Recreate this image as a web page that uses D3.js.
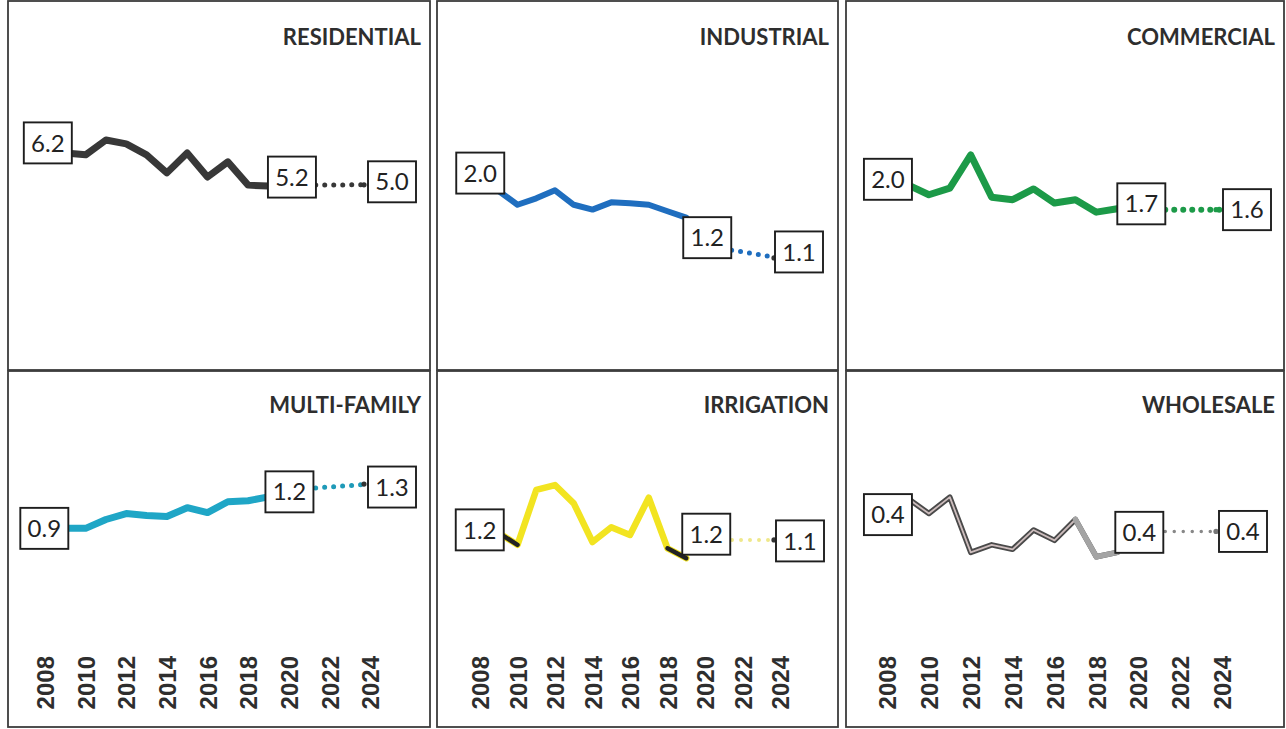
<!DOCTYPE html>
<html>
<head>
<meta charset="utf-8">
<script src="https://cdn.jsdelivr.net/npm/d3@7"></script>
<style>
  body { margin: 0; background: #fff; }
  svg { display: block; }
</style>
</head>
<body>
<svg id="chart" width="1286" height="729"></svg>
<script>
// historical years and projection end points
const years = [2009, 2010, 2011, 2012, 2013, 2014, 2015, 2016, 2017, 2018, 2019];
const projYears = [2020, 2024];
const tickYears = [2008, 2010, 2012, 2014, 2016, 2018, 2020, 2022, 2024];

const sectorNames = ["RESIDENTIAL", "INDUSTRIAL", "COMMERCIAL", "MULTI-FAMILY", "IRRIGATION", "WHOLESALE"];

const residential = [6.21, 6.15, 6.61, 6.49, 6.15, 5.59, 6.21, 5.46, 5.93, 5.21, 5.18];
const residentialProj = [5.21, 5.22];
const residentialLabels = ["6.2", "5.2", "5.0"];

const industrial = [2.01, 1.84, 1.92, 2.02, 1.84, 1.78, 1.87, 1.86, 1.84, 1.76, 1.68];
const industrialProj = [1.33, 1.18];
const industrialLabels = ["2.0", "1.2", "1.1"];

const commercial = [2.03, 1.91, 1.99, 2.39, 1.88, 1.85, 1.98, 1.81, 1.85, 1.70, 1.74];
const commercialProj = [1.73, 1.73];
const commercialLabels = ["2.0", "1.7", "1.6"];

const multiFamily = [0.91, 0.91, 1.0, 1.06, 1.04, 1.03, 1.12, 1.07, 1.18, 1.19, 1.23];
const multiFamilyProj = [1.30, 1.36];
const multiFamilyLabels = ["0.9", "1.2", "1.3"];

const irrigation = [1.21, 1.04, 1.82, 1.89, 1.63, 1.08, 1.29, 1.18, 1.71, 0.99, 0.85];
const irrigationProj = [1.11, 1.11];
const irrigationLabels = ["1.2", "1.2", "1.1"];

const wholesale = [0.40, 0.35, 0.405, 0.22, 0.245, 0.23, 0.295, 0.26, 0.33, 0.205, 0.22];
const wholesaleProj = [0.29, 0.29];
const wholesaleLabels = ["0.4", "0.4", "0.4"];

// layout of the 3x2 grid (scanned page)
const cols = [
  { x0: 8, x1: 430, first: 45, last: 370 },
  { x0: 437, x1: 838, first: 480, last: 780 },
  { x0: 846, x1: 1284, first: 887, last: 1222 }
];
const rows = [
  { y0: 1, y1: 370, top: 63, bottom: 353, titleY: 45, axis: false },
  { y0: 371, y1: 727, top: 421, bottom: 618, titleY: 413, axis: true, axisY: 648 }
];

const panels = [
  { values: residential, proj: residentialProj, labels: residentialLabels, yMax: 9,
    color: "#383838", width: 7, dot: "#383838", dotW: 5, endDot: "#333",
    nudge: [[-17.5, -10], [23.5, -9], [22, -3]] },
  { values: industrial, proj: industrialProj, labels: industrialLabels, yMax: 3.6,
    color: "#1f6ebf", width: 6, dot: "#1f6ebf", dotW: 5, endDot: "#333",
    nudge: [[-18.5, -18], [21, 20], [19, -6]] },
  { values: commercial, proj: commercialProj, labels: commercialLabels, yMax: 3.5,
    color: "#1c9a48", width: 7, dot: "#1c9a48", dotW: 6, endDot: "#1c9a48",
    nudge: [[-20, -5.5], [24, -5], [25, 0]] },
  { values: multiFamily, proj: multiFamilyProj, labels: multiFamilyLabels, yMax: 2.0,
    color: "#1fa6c6", width: 7, dot: "#1f9ab8", dotW: 5, endDot: "#333",
    nudge: [[-21, 0], [21, -5], [22, 3]] },
  { values: irrigation, proj: irrigationProj, labels: irrigationLabels, yMax: 2.8,
    color: "#f2e421", width: 6.5, dot: "#efe88a", dotW: 4, endDot: "#333",
    darkSegments: [0, 9], darkColor: "#222",
    nudge: [[-19, -3], [20, -24], [20, 1]] },
  { values: wholesale, proj: wholesaleProj, labels: wholesaleLabels, yMax: 0.66,
    color: "#4a4a4a", width: 5.5, dot: "#888", dotW: 3.5, endDot: "#777",
    inner: "#cdbdbd", lightSegments: [8, 9], lightColor: "#a4a4a4",
    nudge: [[-20, 16], [22, -20], [21, 0]] }
];

const svg = d3.select("#chart");

panels.forEach((p, i) => {
  const col = cols[i % 3];
  const row = rows[Math.floor(i / 3)];

  const x = d3.scaleLinear().domain([2008, 2024]).range([col.first, col.last]);
  const y = d3.scaleLinear().domain([0, p.yMax]).range([row.bottom, row.top]);

  const g = svg.append("g");

  // panel frame
  g.append("rect")
    .attr("x", col.x0).attr("y", row.y0)
    .attr("width", col.x1 - col.x0).attr("height", row.y1 - row.y0)
    .attr("fill", "none").attr("stroke", "#3c3c3c").attr("stroke-width", 1.8);

  g.append("text")
    .attr("x", col.x1 - 9).attr("y", row.titleY)
    .attr("text-anchor", "end")
    .style("font-family", "Lato, 'Open Sans', sans-serif")
    .style("font-weight", 700).style("font-size", "22px")
    .attr("fill", "#2e2e2e")
    .text(sectorNames[i]);

  if (row.axis) {
    const axis = g.append("g")
      .attr("transform", `translate(0,${row.axisY})`)
      .call(d3.axisBottom(x).tickValues(tickYears).tickFormat(d3.format("d")).tickSize(0));
    axis.select(".domain").remove();
    axis.selectAll("text")
      .attr("transform", "rotate(-90)")
      .attr("text-anchor", "end")
      .attr("x", -8).attr("y", 0).attr("dy", "0.36em")
      .style("font-family", "'Liberation Sans', Arial, sans-serif")
      .style("font-weight", 700).style("font-size", "24px")
      .attr("fill", "#2e2e2e");
  }

  const pts = years.map((yr, j) => [x(yr), y(p.values[j])]);
  const projPts = projYears.map((yr, j) => [x(yr), y(p.proj[j])]);
  const line = d3.line();

  // projection, dotted
  g.append("path")
    .attr("d", line(projPts))
    .attr("fill", "none").attr("stroke", p.dot)
    .attr("stroke-width", p.dotW).attr("stroke-linecap", "round")
    .attr("stroke-dasharray", "0 9");
  g.append("circle")
    .attr("cx", projPts[1][0] - 6).attr("cy", projPts[1][1])
    .attr("r", 2.6).attr("fill", p.endDot);

  // historical line
  g.append("path")
    .attr("d", line(pts))
    .attr("fill", "none").attr("stroke", p.color)
    .attr("stroke-width", p.width)
    .attr("stroke-linejoin", "round").attr("stroke-linecap", "round");

  if (p.inner) {
    g.append("path")
      .attr("d", line(pts))
      .attr("fill", "none").attr("stroke", p.inner)
      .attr("stroke-width", 1.8).attr("stroke-linejoin", "round");
  }

  const recolor = (segs, colour, w) => {
    segs.forEach(s => {
      g.append("path")
        .attr("d", line([pts[s], pts[s + 1]]))
        .attr("fill", "none").attr("stroke", colour)
        .attr("stroke-width", w).attr("stroke-linecap", "round");
    });
  };
  if (p.darkSegments) recolor(p.darkSegments, p.darkColor, 4.5);
  if (p.lightSegments) recolor(p.lightSegments, p.lightColor, p.width);

  // value labels: first year, last actual year, projection end
  const anchors = [pts[0], pts[pts.length - 1], projPts[1]];
  const boxW = 48, boxH = 41;
  anchors.forEach((a, j) => {
    const cx = a[0] + p.nudge[j][0];
    const cy = a[1] + p.nudge[j][1];
    g.append("rect")
      .attr("x", cx - boxW / 2).attr("y", cy - boxH / 2)
      .attr("width", boxW).attr("height", boxH)
      .attr("fill", "#fff").attr("stroke", "#1e1e1e").attr("stroke-width", 1.9);
    g.append("text")
      .attr("x", cx).attr("y", cy).attr("dy", "0.36em")
      .attr("text-anchor", "middle")
      .style("font-family", "Lato, 'Open Sans', sans-serif")
      .style("font-size", "24px")
      .attr("fill", "#222")
      .text(p.labels[j]);
  });
});
</script>
</body>
</html>
